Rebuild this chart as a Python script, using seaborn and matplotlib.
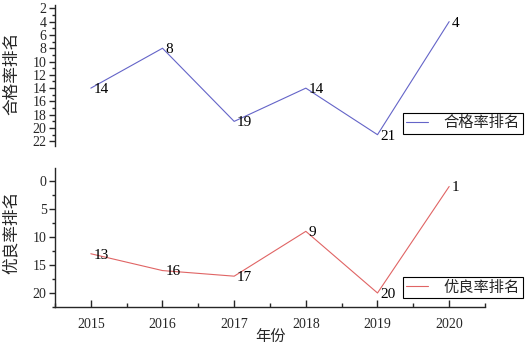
import matplotlib
matplotlib.use("Agg")
import matplotlib.pyplot as plt
import seaborn as sns
import pandas as pd
from matplotlib.ticker import MultipleLocator

years = [2015, 2016, 2017, 2018, 2019, 2020]
pass_rank = [14, 8, 19, 14, 21, 4]
good_rank = [13, 16, 17, 9, 20, 1]
pass_label = "合格率排名"
good_label = "优良率排名"
x_label = "年份"

sns.set_style("ticks")
plt.rcParams['font.family'] = ['Liberation Serif', 'Noto Sans CJK SC', 'DejaVu Sans']
plt.rcParams['axes.linewidth'] = 1.0

W, H = 528, 348
fig = plt.figure(figsize=(W / 100, H / 100), dpi=100)

def fx(px):
    return px / W

def fy(py):
    return 1 - py / H

ax1 = fig.add_axes([fx(55), fy(146), fx(485) - fx(55), fy(5) - fy(146)])
ax2 = fig.add_axes([fx(55), fy(307), fx(485) - fx(55), fy(168) - fy(307)])

df1 = pd.DataFrame({"year": years, "rank": pass_rank})
df2 = pd.DataFrame({"year": years, "rank": good_rank})

blue = "#6464c8"
red = "#e06464"

sns.lineplot(data=df1, x="year", y="rank", ax=ax1, color=blue, lw=0.8, label=pass_label)
sns.lineplot(data=df2, x="year", y="rank", ax=ax2, color=red, lw=0.8, label=good_label)

for ax, df in ((ax1, df1), (ax2, df2)):
    for xv, yv in zip(df["year"], df["rank"]):
        ax.annotate(str(yv), (xv, yv), xytext=(2, -1), textcoords="offset points",
                    ha="left", va="center", fontsize=11, color="black")
    ax.set_xlim(2014.5, 2020.5)
    ax.spines['top'].set_visible(False)
    ax.spines['right'].set_visible(False)
    ax.set_ylabel("")
    ax.set_xlabel("")
    ax.tick_params(axis='y', which='major', direction='out', length=4, width=1, labelsize=10, pad=2)
    ax.tick_params(axis='y', which='minor', direction='out', length=2.5, width=1)

ax1.set_ylim(22.7, 1.5)
ax1.yaxis.set_major_locator(MultipleLocator(2))
ax1.yaxis.set_minor_locator(MultipleLocator(1))
ax1.spines['bottom'].set_visible(False)
ax1.tick_params(axis='x', which='both', bottom=False, labelbottom=False)

ax2.set_ylim(22.5, -2.3)
ax2.set_yticks([0, 5, 10, 15, 20])
ax2.yaxis.set_minor_locator(MultipleLocator(2.5))
ax2.set_xticks(years)
ax2.xaxis.set_minor_locator(MultipleLocator(0.5))
ax2.tick_params(axis='x', which='major', direction='in', length=5, width=1, labelsize=10, pad=8)
ax2.tick_params(axis='x', which='minor', direction='in', length=3, width=1)

for ax, top in ((ax1, 113), (ax2, 277)):
    leg = ax.legend(loc="upper left", bbox_to_anchor=(fx(403), fy(top)),
                    bbox_transform=fig.transFigure, borderaxespad=0,
                    fontsize=11, frameon=True, fancybox=False,
                    handlelength=1.4, handletextpad=1.0, borderpad=0.22)
    leg.get_frame().set_edgecolor("black")
    leg.get_frame().set_linewidth(0.8)
    leg.get_frame().set_alpha(1)

fig.text(fx(12), fy(73), pass_label, rotation=90, ha="center", va="center", fontsize=12)
fig.text(fx(12), fy(232), good_label, rotation=90, ha="center", va="center", fontsize=12)
fig.text(fx(270), fy(337), x_label, ha="center", va="center", fontsize=11)

fig.savefig("out.png", dpi=100)
